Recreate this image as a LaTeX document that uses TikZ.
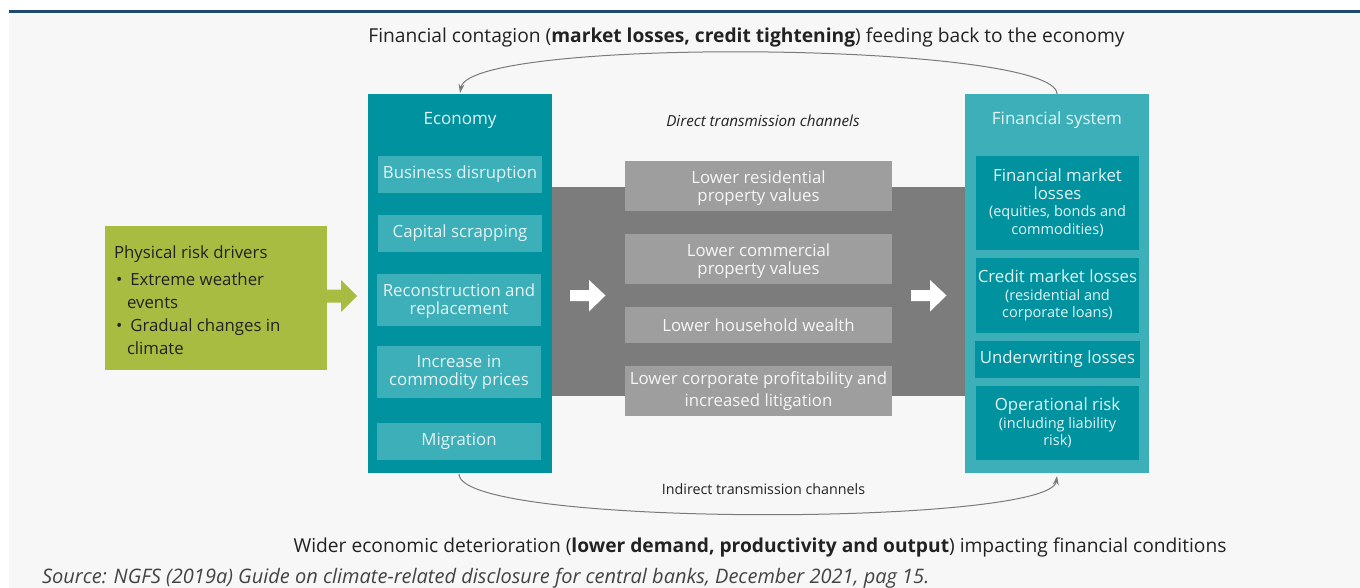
\documentclass[tikz,border=0pt]{standalone}
\usepackage{fontspec}
\setmainfont{Open Sans}
\usetikzlibrary{arrows.meta}
\definecolor{bgc}{HTML}{F7F7F7}
\definecolor{hdr}{HTML}{1D4A6E}
\definecolor{tealD}{HTML}{00929F}
\definecolor{tealL}{HTML}{3DAFB9}
\definecolor{band}{HTML}{7B7C7B}
\definecolor{gbox}{HTML}{9E9E9E}
\definecolor{grn}{HTML}{A9BC42}
\definecolor{txtL}{HTML}{E4F4F5}
\definecolor{txtD}{HTML}{222222}
\definecolor{curve}{HTML}{7A7A7A}
\newcommand{\subtxt}[1]{{\fontsize{14.5}{17}\selectfont #1}}
\tikzset{
  blk/.style={rectangle, inner sep=0pt, outer sep=0pt},
  itemE/.style={blk, fill=tealL, text=txtL, minimum width=164pt, align=center, font=\fontsize{16.8}{18}\selectfont},
  itemF/.style={blk, fill=tealD, text=txtL, minimum width=163pt, align=center, font=\fontsize{16.8}{17.5}\selectfont},
  itemG/.style={blk, fill=gbox, text=white!93!gray, minimum width=267pt, align=center, font=\fontsize{16.8}{18}\selectfont},
  title/.style={blk, text=txtL, font=\fontsize{17}{18}\selectfont},
  loop/.style={draw=curve, line width=1pt, -{Stealth[length=9pt,width=6pt]}},
}
\begin{document}
\begin{tikzpicture}[x=1pt,y=-1pt]
\useasboundingbox (0,0) rectangle (1360,588);
\clip (0,0) rectangle (1360,588);
\fill[white] (0,0) rectangle (1360,588);
\fill[bgc] (9,13) rectangle (1360,588);
\fill[hdr] (9,10) rectangle (1360,13);

% gray band
\node[blk, fill=band, minimum width=413pt, minimum height=209pt] (band) at (758.5,291.5) {};

% economy
\node[blk, fill=tealD, minimum width=184pt, minimum height=379pt] (eco) at (460,283.5) {};
\node[title] (ecot) at (460,120.5) {Economy};
\node[itemE, minimum height=37pt] (bd) at (460,174.5) {\raisebox{-1pt}{Business disruption}};
\node[itemE, minimum height=37pt] (cs) at (460,233.5) {Capital scrapping};
\node[itemE, minimum height=52pt] (rr) at (459,300) {};
\node[itemE] (rrt) at (459,301.5) {Reconstruction and\\replacement};
\node[itemE, minimum height=52pt] (ic) at (459,372) {Increase in\\commodity prices};
\node[itemE, minimum height=37pt] (mg) at (459,441.5) {Migration};

% financial system
\node[blk, fill=tealL, minimum width=184pt, minimum height=379pt] (fin) at (1057,283.5) {};
\node[title] (fint) at (1057,120.5) {Financial system};
\node[itemF, minimum height=94pt] (fm) at (1057.5,203) {Financial market\\losses\\\subtxt{(equities, bonds and}\\\subtxt{commodities)}};
\node[itemF, minimum height=75pt] (cm) at (1057.5,295.5) {Credit market losses\\\subtxt{(residential and}\\\subtxt{corporate loans)}};
\node[itemF, minimum width=165pt, minimum height=37pt] (uw) at (1057.5,359.5) {Underwriting losses};
\node[itemF, minimum height=74pt] (op) at (1057.5,423) {Operational risk\\\subtxt{(including liability}\\\subtxt{risk)}};

% gray channel boxes
\node[itemG, minimum height=50pt] (g1) at (758.5,186) {};
\node[itemG] (g1t) at (758.5,188.5) {Lower residential\\property values};
\node[itemG, minimum height=50pt] (g2) at (758.5,259) {};
\node[itemG] (g2t) at (758.5,261.5) {Lower commercial\\property values};
\node[itemG, minimum height=36pt] (g3) at (758.5,325) {Lower household wealth};
\node[itemG, minimum height=50pt, font=\fontsize{16.8}{22}\selectfont] (g4) at (758.5,391) {Lower corporate profitability and\\increased litigation};

% green box
\node[blk, fill=grn, minimum width=222pt, minimum height=144pt] (phys) at (216,298) {};
\node[blk, anchor=north west, align=left, text=txtD, font=\fontsize{16.8}{23}\selectfont] (physt) at (114,246)
  {Physical risk drivers\\[3.5pt]
   \hspace*{2pt}\textbullet\hspace{8pt}Extreme weather\\
   \hspace*{13pt}events\\
   \hspace*{2pt}\textbullet\hspace{8pt}Gradual changes in\\
   \hspace*{13pt}climate};

% block arrows
\coordinate (ga) at (327,296);
\fill[grn] (ga) ++(0,-6.5) -- ++(14,0) -- ++(0,-9.5) -- (357,296) -- (341,312) -- ++(0,-9.5) -- ++(-14,0) -- cycle;
\coordinate (wa1) at (570,295.5);
\fill[white] (wa1) ++(0,-5.5) -- ++(19,0) -- ++(0,-10) -- (605.5,295.5) -- (589,311.5) -- ++(0,-10.5) -- ++(-19,0) -- cycle;
\coordinate (wa2) at (911,295.5);
\fill[white] (wa2) ++(0,-5.5) -- ++(19,0) -- ++(0,-10) -- (946.5,295.5) -- (930,311.5) -- ++(0,-10.5) -- ++(-19,0) -- cycle;

% labels
\node[blk, text=txtD, font=\fontsize{19.2}{21}\selectfont] (toplab) at (746.5,37)
  {Financial contagion (\textbf{market losses, credit tightening}) feeding back to the economy};
\node[blk, text=txtD, font=\itshape\fontsize{15.2}{16}\selectfont] (direct) at (763,121) {Direct transmission channels};
\node[blk, text=txtD, font=\fontsize{14.3}{16}\selectfont] (indirect) at (763.5,489) {Indirect transmission channels};
\node[blk, text=txtD, font=\fontsize{19.2}{21}\selectfont] (botlab) at (760,547.5)
  {Wider economic deterioration (\textbf{lower demand, productivity and output}) impacting financial conditions};
\node[blk, anchor=base west, text=txtD!85!white, font=\itshape\fontsize{20}{22}\selectfont] (src) at (42,583)
  {Source: NGFS (2019a) Guide on climate-related disclosure for central banks, December 2021, pag 15.};

% feedback loops
\coordinate (finTop) at (1057,94);
\coordinate (ecoTop) at (460,93);
\coordinate (ecoBot) at (459,474);
\coordinate (finBot) at (1057,476);
\draw[loop] (finTop) .. controls (1057,42) and (470,36) .. (ecoTop);
\draw[loop] (ecoBot) .. controls (459,528) and (1050,526) .. (finBot);
\end{tikzpicture}
\end{document}
